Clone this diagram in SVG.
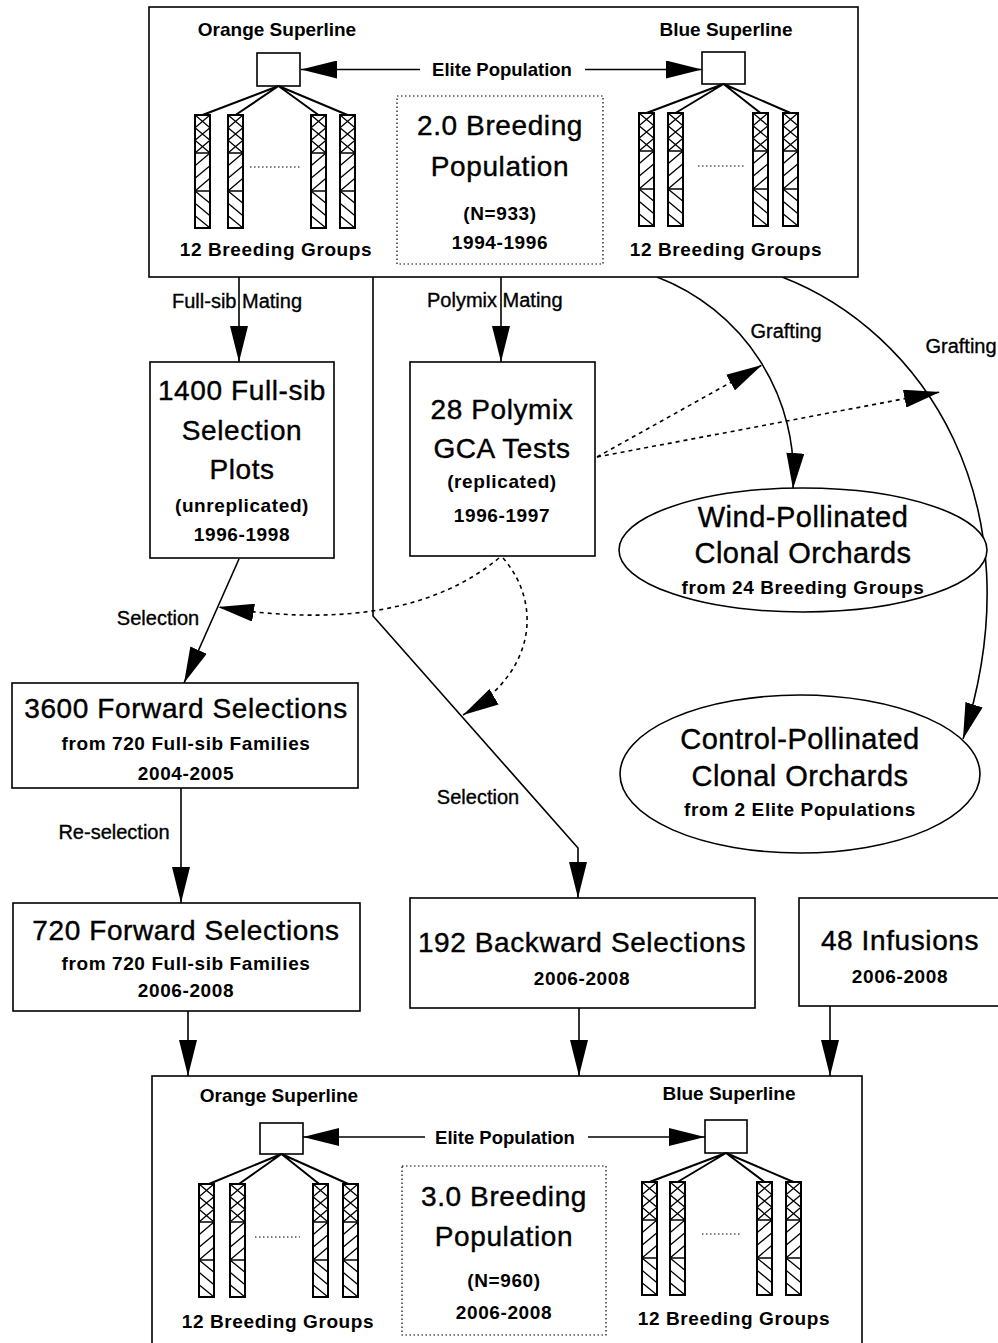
<svg xmlns="http://www.w3.org/2000/svg" width="998" height="1343" viewBox="0 0 998 1343">
<style>
text{font-family:"Liberation Sans",Arial,Helvetica,sans-serif;fill:#000}
.big{font-size:28px;letter-spacing:0.6px;text-anchor:middle;stroke:#000;stroke-width:0.4}
.ell{font-size:29px;letter-spacing:0.5px;text-anchor:middle;stroke:#000;stroke-width:0.4}
.sm{font-size:19px;font-weight:bold;letter-spacing:0.6px;text-anchor:middle}
.sup{font-size:19px;font-weight:bold;text-anchor:middle}
.elite{font-size:18.5px;font-weight:bold;text-anchor:middle}
.lbl{font-size:20px;stroke:#000;stroke-width:0.35}
.mid{text-anchor:middle}
.box{fill:#fff;stroke:#000;stroke-width:1.6}
.ln{fill:none;stroke:#000;stroke-width:1.6}
.br{fill:none;stroke:#000;stroke-width:2}
.dash{fill:none;stroke:#000;stroke-width:1.6;stroke-dasharray:4 4}
.dot{fill:none;stroke:#000;stroke-width:1.2;stroke-dasharray:1.5 2.5}
.hat{fill:none;stroke:#000;stroke-width:1.3}
</style>
<defs>
<marker id="ah" markerUnits="userSpaceOnUse" viewBox="0 0 36 18" markerWidth="36" markerHeight="18" refX="36" refY="9" orient="auto">
<path d="M0,0 L36,9 L0,18 z" fill="#000"/>
</marker>
<g id="col">
<rect x="0" y="0" width="15" height="113" fill="#fff"/>
<path class="hat" d="M0,0 L15,12.7 M15,0 L0,12.7 M0,12.7 L15,25.3 M15,12.7 L0,25.3 M0,25.3 L15,38 M15,25.3 L0,38"/>
<path class="hat" d="M0,50.7 L15,38 M0,63.3 L15,50.7 M0,76 L15,63.3"/>
<path class="hat" d="M0,76 L15,88.3 M0,88.3 L15,100.7 M0,100.7 L15,113"/>
<path class="hat" d="M0,38 H15 M0,76 H15"/>
<rect x="0" y="0" width="15" height="113" fill="none" stroke="#000" stroke-width="2"/>
</g>
</defs>
<rect x="0" y="0" width="998" height="1343" fill="#fff"/>

<g id="connectors">
<path class="ln" d="M239,277 V362" marker-end="url(#ah)"/>
<path class="ln" d="M501,277 V362" marker-end="url(#ah)"/>
<path class="ln" d="M373,277 V616 L578,848 V898" marker-end="url(#ah)"/>
<path class="ln" d="M239,559 L184,683" marker-end="url(#ah)"/>
<path class="ln" d="M181,788 V903" marker-end="url(#ah)"/>
<path class="ln" d="M188,1011 V1076" marker-end="url(#ah)"/>
<path class="ln" d="M579,1008 V1076" marker-end="url(#ah)"/>
<path class="ln" d="M830,1006 V1076" marker-end="url(#ah)"/>
<path class="ln" d="M657,277 A212,212 0 0 1 793,489" marker-end="url(#ah)"/>
<path class="ln" d="M782,277 C920,330 1040,500 963,739" marker-end="url(#ah)"/>
<path class="dash" d="M597,457 L762,365" marker-end="url(#ah)"/>
<path class="dash" d="M597,457 L940,392" marker-end="url(#ah)"/>
<path class="dash" d="M499,558 C430,615 330,625 218,607" marker-end="url(#ah)"/>
<path class="dash" d="M503,558 C540,600 540,670 463,715" marker-end="url(#ah)"/>
<text class="lbl" x="172" y="308">Full-sib Mating</text>
<text class="lbl" x="427" y="307">Polymix Mating</text>
<text class="lbl mid" x="158" y="625">Selection</text>
<text class="lbl mid" x="478" y="804">Selection</text>
<text class="lbl mid" x="114" y="839">Re-selection</text>
<text class="lbl mid" x="786" y="338">Grafting</text>
<text class="lbl mid" x="961" y="353">Grafting</text>
</g>

<g id="pop-2-0">
<rect class="box" x="149" y="7" width="709" height="270"/>
<text class="sup" x="277" y="36">Orange Superline</text>
<text class="sup" x="726" y="36">Blue Superline</text>
<path class="ln" d="M420,69.5 H301" marker-end="url(#ah)"/>
<path class="ln" d="M585,69.5 H702" marker-end="url(#ah)"/>
<text class="elite" x="502" y="76">Elite Population</text>
<rect class="box" x="257" y="53" width="43" height="33"/>
<rect class="box" x="702" y="52" width="43" height="32"/>
<path class="br" d="M278.5,86 L202.5,115 M278.5,86 L235.5,115 M278.5,86 L318.5,115 M278.5,86 L347.5,115"/>
<path class="br" d="M723.5,84 L646.5,113 M723.5,84 L675.5,113 M723.5,84 L760.5,113 M723.5,84 L790.5,113"/>
<use href="#col" x="195" y="115"/>
<use href="#col" x="228" y="115"/>
<use href="#col" x="311" y="115"/>
<use href="#col" x="340" y="115"/>
<use href="#col" x="639" y="113"/>
<use href="#col" x="668" y="113"/>
<use href="#col" x="753" y="113"/>
<use href="#col" x="783" y="113"/>
<path class="dot" d="M250,167 H300 M698,166 H745"/>
<text class="sm" x="276" y="256">12 Breeding Groups</text>
<text class="sm" x="726" y="256">12 Breeding Groups</text>
<rect class="dot" x="397" y="96" width="206" height="168"/>
<text class="big" x="500" y="135">2.0 Breeding</text>
<text class="big" x="500" y="176">Population</text>
<text class="sm" x="500" y="220">(N=933)</text>
<text class="sm" x="500" y="249">1994-1996</text>
</g>

<g id="fullsib-plots">
<rect class="box" x="150" y="362" width="184" height="196"/>
<text class="big" x="242" y="400">1400 Full-sib</text>
<text class="big" x="242" y="440">Selection</text>
<text class="big" x="242" y="479">Plots</text>
<text class="sm" x="242" y="512">(unreplicated)</text>
<text class="sm" x="242" y="541">1996-1998</text>
</g>

<g id="polymix-tests">
<rect class="box" x="410" y="362" width="185" height="194"/>
<text class="big" x="502" y="419">28 Polymix</text>
<text class="big" x="502" y="458">GCA Tests</text>
<text class="sm" x="502" y="488">(replicated)</text>
<text class="sm" x="502" y="522">1996-1997</text>
</g>

<g id="wind-orchards">
<ellipse class="box" cx="803" cy="550" rx="184" ry="62"/>
<text class="ell" x="803" y="527">Wind-Pollinated</text>
<text class="ell" x="803" y="563">Clonal Orchards</text>
<text class="sm" x="803" y="594">from 24 Breeding Groups</text>
</g>

<g id="control-orchards">
<ellipse class="box" cx="800" cy="774" rx="180" ry="79"/>
<text class="ell" x="800" y="749">Control-Pollinated</text>
<text class="ell" x="800" y="786">Clonal Orchards</text>
<text class="sm" x="800" y="816">from 2 Elite Populations</text>
</g>

<g id="forward-3600">
<rect class="box" x="12" y="683" width="346" height="105"/>
<text class="big" x="186" y="718">3600 Forward Selections</text>
<text class="sm" x="186" y="750">from 720 Full-sib Families</text>
<text class="sm" x="186" y="780">2004-2005</text>
</g>

<g id="forward-720">
<rect class="box" x="13" y="903" width="347" height="108"/>
<text class="big" x="186" y="940">720 Forward Selections</text>
<text class="sm" x="186" y="970">from 720 Full-sib Families</text>
<text class="sm" x="186" y="997">2006-2008</text>
</g>

<g id="backward-192">
<rect class="box" x="410" y="898" width="345" height="110"/>
<text class="big" x="582" y="952">192 Backward Selections</text>
<text class="sm" x="582" y="985">2006-2008</text>
</g>

<g id="infusions-48">
<rect class="box" x="799" y="898" width="230" height="108"/>
<text class="big" x="900" y="950">48 Infusions</text>
<text class="sm" x="900" y="983">2006-2008</text>
</g>

<g id="pop-3-0">
<rect class="box" x="152" y="1076" width="710" height="300"/>
<text class="sup" x="279" y="1102">Orange Superline</text>
<text class="sup" x="729" y="1100">Blue Superline</text>
<path class="ln" d="M425,1137 H303" marker-end="url(#ah)"/>
<path class="ln" d="M588,1137 H705" marker-end="url(#ah)"/>
<text class="elite" x="505" y="1144">Elite Population</text>
<rect class="box" x="260" y="1123" width="43" height="31"/>
<rect class="box" x="705" y="1120" width="42" height="33"/>
<path class="br" d="M281.5,1154 L206.5,1185 M281.5,1154 L237.5,1185 M281.5,1154 L320.5,1185 M281.5,1154 L350.5,1185"/>
<path class="br" d="M726,1153 L649.5,1182 M726,1153 L677.5,1182 M726,1153 L764.5,1182 M726,1153 L793.5,1182"/>
<use href="#col" x="199" y="1184"/>
<use href="#col" x="230" y="1184"/>
<use href="#col" x="313" y="1184"/>
<use href="#col" x="343" y="1184"/>
<use href="#col" x="642" y="1182"/>
<use href="#col" x="670" y="1182"/>
<use href="#col" x="757" y="1182"/>
<use href="#col" x="786" y="1182"/>
<path class="dot" d="M255,1237 H300 M702,1234 H740"/>
<text class="sm" x="278" y="1328">12 Breeding Groups</text>
<text class="sm" x="734" y="1325">12 Breeding Groups</text>
<rect class="dot" x="402" y="1166" width="204" height="169"/>
<text class="big" x="504" y="1206">3.0 Breeding</text>
<text class="big" x="504" y="1246">Population</text>
<text class="sm" x="504" y="1287">(N=960)</text>
<text class="sm" x="504" y="1319">2006-2008</text>
</g>
</svg>
